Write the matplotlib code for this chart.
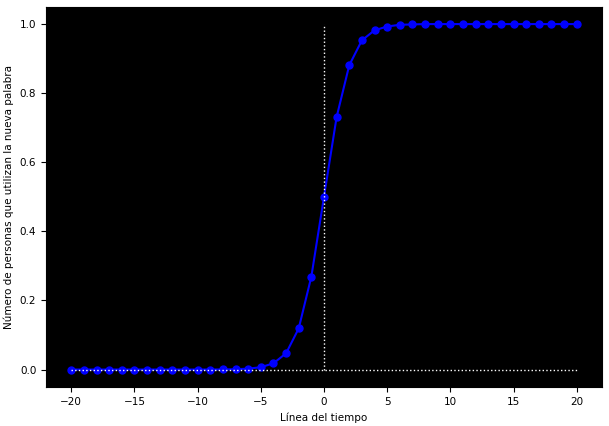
import matplotlib
matplotlib.use("Agg")
import matplotlib.pyplot as plt

x = list(range(-20, 21))
y = [0.0, 0.0, 0.0, 0.0, 0.0, 0.0, 0.0, 0.0, 0.0, 0.0, 0.0, 0.0, 0.0003,
     0.0009, 0.0025, 0.0067, 0.018, 0.047, 0.119, 0.269, 0.5, 0.731, 0.881,
     0.953, 0.982, 0.993, 0.998, 0.999, 1.0, 1.0, 1.0, 1.0, 1.0, 1.0, 1.0,
     1.0, 1.0, 1.0, 1.0, 1.0, 1.0]

fig = plt.figure(figsize=(6.09, 4.26), dpi=100)
ax = fig.add_axes([0.0755, 0.092, 0.913, 0.892])
ax.set_facecolor("black")
ax.plot(x, y, color="blue", marker="o", markersize=5)
ax.plot([0, 0], [0, 1], color="white", linestyle=":", linewidth=1)
ax.plot([x[0], x[-1]], [0, 0], color="white", linestyle=":", linewidth=1)
ax.set_xlabel("Línea del tiempo", fontsize=7.5)
ax.set_ylabel("Número de personas que utilizan la nueva palabra", fontsize=7.5)
ax.tick_params(labelsize=7.5)
ax.set_xticks([-20, -15, -10, -5, 0, 5, 10, 15, 20])
fig.savefig("out.png", dpi=100)
